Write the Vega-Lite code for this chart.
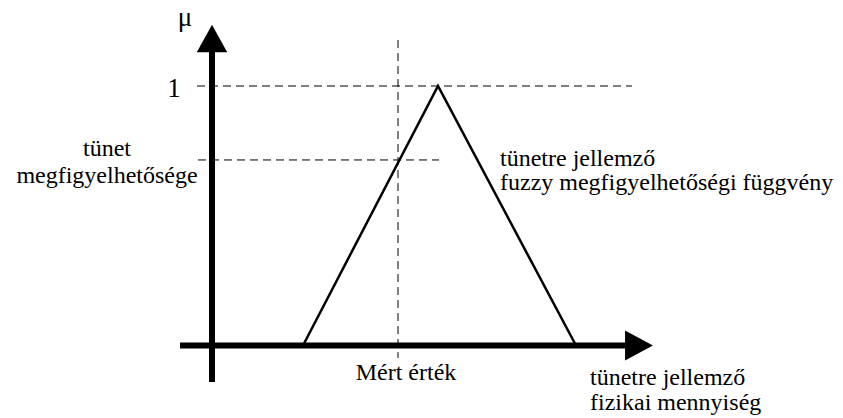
{
  "$schema": "https://vega.github.io/schema/vega-lite/v6.json",
  "width": 843,
  "height": 418,
  "padding": 0,
  "autosize": {"type": "fit", "contains": "padding"},
  "background": "white",
  "config": {"view": {"stroke": null}},
  "datasets": {
    "axes": [
      {"id": "mu-axis", "x": 0, "x2": 0, "y": -0.1407, "y2": 1.131},
      {"id": "q-axis", "x": -32, "x2": 413, "y": 0, "y2": 0}
    ],
    "heads": [
      {"id": "up", "x": 0, "y": 1.183},
      {"id": "right", "x": 427, "y": 0}
    ],
    "membership": [
      {"q": 91, "mu": 0, "o": 1},
      {"q": 226, "mu": 1, "o": 2},
      {"q": 364, "mu": 0, "o": 3}
    ],
    "guides": [
      {"id": "one", "x": -15, "x2": 420, "y": 1, "y2": 1},
      {"id": "obs", "x": -14, "x2": 227, "y": 0.715, "y2": 0.715},
      {"id": "meas", "x": 186, "x2": 186, "y": 1.177, "y2": -0.048}
    ],
    "labels": [
      {"g": "big", "text": "μ", "x": -27, "y": 1.2312},
      {"g": "big", "text": "1", "x": -38, "y": 0.957},
      {"g": "center", "text": "tünet", "x": -105, "y": 0.73},
      {"g": "center", "text": "megfigyelhetősége", "x": -105, "y": 0.626},
      {"g": "left", "text": "tünetre jellemző", "x": 288, "y": 0.692},
      {"g": "left", "text": "fuzzy megfigyelhetőségi függvény", "x": 288, "y": 0.599},
      {"g": "center", "text": "Mért érték", "x": 194, "y": -0.133},
      {"g": "left", "text": "tünetre jellemző", "x": 378, "y": -0.152},
      {"g": "left", "text": "fizikai mennyiség", "x": 378, "y": -0.249}
    ]
  },
  "layer": [
    {
      "data": {"name": "guides"},
      "mark": {"type": "rule", "stroke": "black", "strokeWidth": 1, "strokeDash": [8, 5]},
      "encoding": {
        "x": {"field": "x", "type": "quantitative", "scale": {"domain": [-212, 631], "nice": false, "zero": false}, "axis": null},
        "x2": {"field": "x2"},
        "y": {"field": "y", "type": "quantitative", "scale": {"domain": [-0.2794, 1.3314], "nice": false, "zero": false}, "axis": null},
        "y2": {"field": "y2"}
      }
    },
    {
      "data": {"name": "membership"},
      "mark": {"type": "line", "stroke": "black", "strokeWidth": 2.5, "strokeJoin": "miter"},
      "encoding": {
        "x": {"field": "q", "type": "quantitative"},
        "y": {"field": "mu", "type": "quantitative"},
        "order": {"field": "o"}
      }
    },
    {
      "data": {"name": "axes"},
      "mark": {"type": "rule", "stroke": "black", "strokeWidth": 6},
      "encoding": {
        "x": {"field": "x", "type": "quantitative"},
        "x2": {"field": "x2"},
        "y": {"field": "y", "type": "quantitative"},
        "y2": {"field": "y2"}
      }
    },
    {
      "data": {"name": "heads"},
      "transform": [{"filter": "datum.id === 'up'"}],
      "mark": {"type": "point", "shape": "M0,-0.9L1,0.9L-1,0.9Z", "size": 930, "filled": true, "fill": "black", "stroke": null, "opacity": 1},
      "encoding": {
        "x": {"field": "x", "type": "quantitative"},
        "y": {"field": "y", "type": "quantitative"}
      }
    },
    {
      "data": {"name": "heads"},
      "transform": [{"filter": "datum.id === 'right'"}],
      "mark": {"type": "point", "shape": "M0.93,0L-0.93,-1L-0.93,1Z", "size": 900, "filled": true, "fill": "black", "stroke": null, "opacity": 1},
      "encoding": {
        "x": {"field": "x", "type": "quantitative"},
        "y": {"field": "y", "type": "quantitative"}
      }
    },
    {
      "data": {"name": "labels"},
      "transform": [{"filter": "datum.g === 'big'"}],
      "mark": {"type": "text", "font": "Times New Roman, Liberation Serif, DejaVu Serif, serif", "fontSize": 27, "align": "center", "baseline": "alphabetic", "color": "black"},
      "encoding": {
        "x": {"field": "x", "type": "quantitative"},
        "y": {"field": "y", "type": "quantitative"},
        "text": {"field": "text"}
      }
    },
    {
      "data": {"name": "labels"},
      "transform": [{"filter": "datum.g === 'center'"}],
      "mark": {"type": "text", "font": "Times New Roman, Liberation Serif, DejaVu Serif, serif", "fontSize": 24, "align": "center", "baseline": "alphabetic", "color": "black"},
      "encoding": {
        "x": {"field": "x", "type": "quantitative"},
        "y": {"field": "y", "type": "quantitative"},
        "text": {"field": "text"}
      }
    },
    {
      "data": {"name": "labels"},
      "transform": [{"filter": "datum.g === 'left'"}],
      "mark": {"type": "text", "font": "Times New Roman, Liberation Serif, DejaVu Serif, serif", "fontSize": 24, "align": "left", "baseline": "alphabetic", "color": "black"},
      "encoding": {
        "x": {"field": "x", "type": "quantitative"},
        "y": {"field": "y", "type": "quantitative"},
        "text": {"field": "text"}
      }
    }
  ]
}
